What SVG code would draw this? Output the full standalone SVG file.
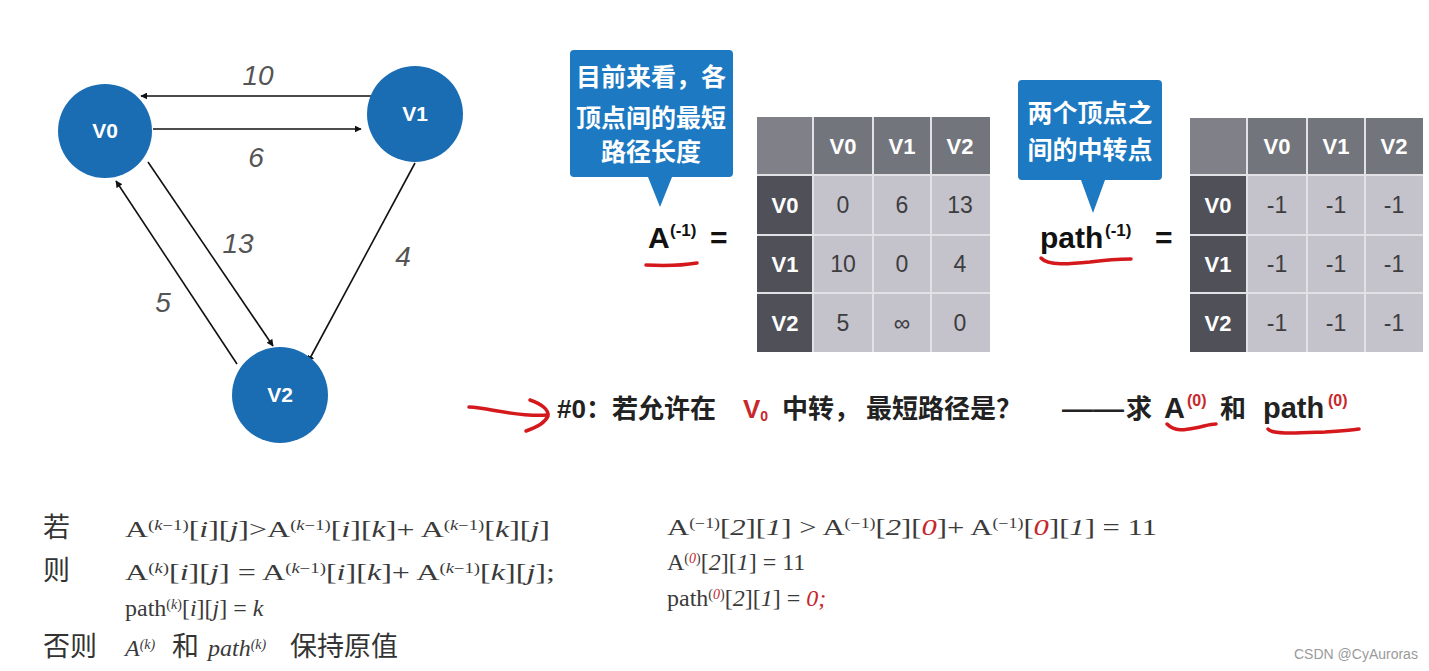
<svg xmlns="http://www.w3.org/2000/svg" width="1429" height="671" viewBox="0 0 1429 671">
<defs>
<marker id="ah" viewBox="0 0 10 10" refX="9" refY="5" markerWidth="7" markerHeight="7" orient="auto" markerUnits="userSpaceOnUse"><path d="M0,0 L10,5 L0,10 z" fill="#111"/></marker>
<style>
.node{fill:#1b6db3}
.nl{font-family:"Liberation Sans",Arial,sans-serif;font-weight:bold;font-size:21px;fill:#fff;text-anchor:middle}
.edge{stroke:#111;stroke-width:1.6;fill:none;marker-end:url(#ah)}
.el{font-family:"Liberation Sans",Arial,sans-serif;font-style:italic;font-size:28px;fill:#555;text-anchor:middle}
.call{fill:#1d79c1}
.ct{font-family:"Noto Sans CJK SC",sans-serif;font-weight:bold;font-size:25px;fill:#fff;text-anchor:middle}
.corner{fill:#808188}
.hd{fill:#73757c}
.rh{fill:#505158}
.cell{fill:#c4c2ca}
.th{font-family:"Liberation Sans",Arial,sans-serif;font-weight:bold;font-size:22px;fill:#fff;text-anchor:middle}
.td{font-family:"Liberation Sans",Arial,sans-serif;font-size:23px;fill:#3d3d40;text-anchor:middle}
.big{font-family:"Liberation Sans",Arial,sans-serif;font-weight:bold;font-size:30px;fill:#111}
.sup{font-family:"Liberation Sans",Arial,sans-serif;font-weight:bold;font-size:17px;fill:#111}
.red{stroke:#d4181c;stroke-width:3.5;fill:none;stroke-linecap:round;stroke-linejoin:round}
.q{font-family:"Liberation Sans","Noto Sans CJK SC",sans-serif;font-size:26px;fill:#222;font-weight:bold}
.qb{font-family:"Liberation Sans",Arial,sans-serif;font-size:29px;fill:#222;font-weight:bold}
.qs{font-family:"Liberation Sans",Arial,sans-serif;font-size:16px;fill:#c8272b;font-weight:bold}
.cj{font-family:"Noto Sans CJK SC",sans-serif;font-size:27px;fill:#333}
.f{font-family:"Liberation Serif","Times New Roman",serif;font-size:24px;fill:#3a3a3a}
.fs{font-size:14px}
.it{font-style:italic}
.r{fill:#c8272b}
</style>
</defs>
<rect width="1429" height="671" fill="#fff"/>

<g id="connectors">
<line class="edge" x1="373" y1="96" x2="141" y2="96"/>
<line class="edge" x1="153" y1="129" x2="361" y2="129"/>
<line class="edge" x1="148" y1="162" x2="273" y2="346"/>
<line class="edge" x1="237" y1="364" x2="116" y2="181"/>
<line class="edge" x1="415" y1="163" x2="308" y2="362"/>
<text class="el" x="258" y="85">10</text>
<text class="el" x="256" y="167">6</text>
<text class="el" x="238" y="253">13</text>
<text class="el" x="403" y="266">4</text>
<text class="el" x="163" y="312">5</text>
</g>

<g id="V0"><circle class="node" cx="105" cy="131" r="47"/><text class="nl" x="105" y="138">V0</text></g>
<g id="V1"><circle class="node" cx="415" cy="114" r="48"/><text class="nl" x="415" y="121">V1</text></g>
<g id="V2"><circle class="node" cx="280" cy="395" r="48"/><text class="nl" x="280" y="402">V2</text></g>

<g id="callout1">
<path class="call" d="M574,50 H729 a4,4 0 0 1 4,4 V173 a4,4 0 0 1 -4,4 H672 L660,207 L648,177 H574 a4,4 0 0 1 -4,-4 V54 a4,4 0 0 1 4,-4 z"/>
<text class="ct" x="651" y="86">目前来看，各</text>
<text class="ct" x="651" y="127">顶点间的最短</text>
<text class="ct" x="651" y="161">路径长度</text>
</g>

<g id="callout2">
<path class="call" d="M1022,80 H1158 a4,4 0 0 1 4,4 V176 a4,4 0 0 1 -4,4 H1105 L1093,213 L1081,180 H1022 a4,4 0 0 1 -4,-4 V84 a4,4 0 0 1 4,-4 z"/>
<text class="ct" x="1090" y="122">两个顶点之</text>
<text class="ct" x="1090" y="159">间的中转点</text>
</g>

<g id="A-label">
<text class="big" x="648" y="248">A</text>
<text class="sup" x="670" y="236">(-1)</text>
<text class="big" x="710" y="248">=</text>
<path class="red" d="M646,265 C665,266 685,265 697,263"/>
</g>

<g id="tableA">
<rect x="757" y="117" width="233" height="235" fill="#e2e2e6"/>
<rect class="corner" x="757" y="117" width="55" height="57"/>
<rect class="hd" x="814" y="117" width="58" height="57"/>
<rect class="hd" x="874" y="117" width="56" height="57"/>
<rect class="hd" x="932" y="117" width="58" height="57"/>
<rect class="rh" x="757" y="176" width="55" height="58"/>
<rect class="rh" x="757" y="236" width="55" height="56"/>
<rect class="rh" x="757" y="294" width="55" height="58"/>
<rect class="cell" x="814" y="176" width="58" height="58"/><rect class="cell" x="874" y="176" width="56" height="58"/><rect class="cell" x="932" y="176" width="58" height="58"/>
<rect class="cell" x="814" y="236" width="58" height="56"/><rect class="cell" x="874" y="236" width="56" height="56"/><rect class="cell" x="932" y="236" width="58" height="56"/>
<rect class="cell" x="814" y="294" width="58" height="58"/><rect class="cell" x="874" y="294" width="56" height="58"/><rect class="cell" x="932" y="294" width="58" height="58"/>
<text class="th" x="843" y="154">V0</text><text class="th" x="902" y="154">V1</text><text class="th" x="960" y="154">V2</text>
<text class="th" x="785" y="213">V0</text><text class="th" x="785" y="272">V1</text><text class="th" x="785" y="331">V2</text>
<text class="td" x="843" y="213">0</text><text class="td" x="902" y="213">6</text><text class="td" x="960" y="213">13</text>
<text class="td" x="843" y="272">10</text><text class="td" x="902" y="272">0</text><text class="td" x="960" y="272">4</text>
<text class="td" x="843" y="331">5</text><text class="td" x="902" y="331">∞</text><text class="td" x="960" y="331">0</text>
</g>

<g id="path-label">
<text class="big" x="1040" y="248">path</text>
<text class="sup" x="1105" y="236">(-1)</text>
<text class="big" x="1155" y="248">=</text>
<path class="red" d="M1041,258 C1048,266 1070,264 1090,262 C1105,260 1120,259 1131,259"/>
</g>

<g id="tablePath">
<rect x="1190" y="118" width="233" height="234" fill="#e2e2e6"/>
<rect class="corner" x="1190" y="118" width="56" height="56"/>
<rect class="hd" x="1248" y="118" width="58" height="56"/>
<rect class="hd" x="1308" y="118" width="56" height="56"/>
<rect class="hd" x="1366" y="118" width="57" height="56"/>
<rect class="rh" x="1190" y="176" width="56" height="58"/>
<rect class="rh" x="1190" y="236" width="56" height="56"/>
<rect class="rh" x="1190" y="294" width="56" height="58"/>
<rect class="cell" x="1248" y="176" width="58" height="58"/><rect class="cell" x="1308" y="176" width="56" height="58"/><rect class="cell" x="1366" y="176" width="57" height="58"/>
<rect class="cell" x="1248" y="236" width="58" height="56"/><rect class="cell" x="1308" y="236" width="56" height="56"/><rect class="cell" x="1366" y="236" width="57" height="56"/>
<rect class="cell" x="1248" y="294" width="58" height="58"/><rect class="cell" x="1308" y="294" width="56" height="58"/><rect class="cell" x="1366" y="294" width="57" height="58"/>
<text class="th" x="1277" y="154">V0</text><text class="th" x="1336" y="154">V1</text><text class="th" x="1394" y="154">V2</text>
<text class="th" x="1218" y="213">V0</text><text class="th" x="1218" y="272">V1</text><text class="th" x="1218" y="331">V2</text>
<text class="td" x="1277" y="213">-1</text><text class="td" x="1336" y="213">-1</text><text class="td" x="1394" y="213">-1</text>
<text class="td" x="1277" y="272">-1</text><text class="td" x="1336" y="272">-1</text><text class="td" x="1394" y="272">-1</text>
<text class="td" x="1277" y="331">-1</text><text class="td" x="1336" y="331">-1</text><text class="td" x="1394" y="331">-1</text>
</g>

<g id="step0">
<path class="red" d="M469,407 C490,408 515,417 547,415"/>
<path class="red" d="M530,400 C542,404 549,410 548,416 C545,423 535,428 526,431"/>
<text class="q" x="557" y="418">#0：若允许在</text>
<text class="q r" x="743" y="418">V<tspan style="font-size:14px" dy="3">0</tspan></text>
<text class="q" x="782" y="418">中转，</text>
<text class="q" x="866" y="418">最短路径是？</text>
<text class="q" x="1062" y="418" textLength="62" lengthAdjust="spacingAndGlyphs">——</text>
<text class="q" x="1126" y="418">求</text>
<text class="qb" x="1164" y="418">A</text>
<text class="qs" x="1187" y="406">(0)</text>
<text class="q" x="1220" y="418">和</text>
<text class="qb" x="1263" y="418">path</text>
<text class="qs" x="1328" y="406">(0)</text>
<path class="red" d="M1167,424 C1175,432 1185,430 1195,428 C1205,426 1210,424 1216,424"/>
<path class="red" d="M1268,429 C1272,435 1300,433 1325,432 C1340,431 1352,430 1359,429"/>
</g>

<g id="rule">
<text class="cj" x="43" y="537">若</text>
<text class="cj" x="43" y="580">则</text>
<text class="cj" x="43" y="656">否则</text>
<text class="f" x="125" y="537" textLength="425" lengthAdjust="spacingAndGlyphs">A<tspan class="fs" dy="-7">(<tspan class="it">k</tspan>−1)</tspan><tspan dy="7">[<tspan class="it">i</tspan>][<tspan class="it">j</tspan>]&gt;A</tspan><tspan class="fs" dy="-7">(<tspan class="it">k</tspan>−1)</tspan><tspan dy="7">[<tspan class="it">i</tspan>][<tspan class="it">k</tspan>]+ A</tspan><tspan class="fs" dy="-7">(<tspan class="it">k</tspan>−1)</tspan><tspan dy="7">[<tspan class="it">k</tspan>][<tspan class="it">j</tspan>]</tspan></text>
<text class="f" x="125" y="580" textLength="430" lengthAdjust="spacingAndGlyphs">A<tspan class="fs" dy="-7">(<tspan class="it">k</tspan>)</tspan><tspan dy="7">[<tspan class="it">i</tspan>][<tspan class="it">j</tspan>] = A</tspan><tspan class="fs" dy="-7">(<tspan class="it">k</tspan>−1)</tspan><tspan dy="7">[<tspan class="it">i</tspan>][<tspan class="it">k</tspan>]+ A</tspan><tspan class="fs" dy="-7">(<tspan class="it">k</tspan>−1)</tspan><tspan dy="7">[<tspan class="it">k</tspan>][<tspan class="it">j</tspan>];</tspan></text>
<text class="f" x="125" y="616">path<tspan class="fs" dy="-7">(<tspan class="it">k</tspan>)</tspan><tspan dy="7">[<tspan class="it">i</tspan>][<tspan class="it">j</tspan>] = <tspan class="it">k</tspan></tspan></text>
<text class="f it" x="125" y="656">A<tspan class="fs" dy="-7">(k)</tspan></text>
<text class="cj" x="172" y="656">和</text>
<text class="f it" x="208" y="656">path<tspan class="fs" dy="-7">(k)</tspan></text>
<text class="cj" x="290" y="656">保持原值</text>
</g>

<g id="example">
<text class="f" x="667" y="535" textLength="490" lengthAdjust="spacingAndGlyphs">A<tspan class="fs" dy="-7">(−1)</tspan><tspan dy="7">[<tspan class="it">2</tspan>][<tspan class="it">1</tspan>] &gt; A</tspan><tspan class="fs" dy="-7">(−1)</tspan><tspan dy="7">[<tspan class="it">2</tspan>][<tspan class="it r">0</tspan>]+ A</tspan><tspan class="fs" dy="-7">(−1)</tspan><tspan dy="7">[<tspan class="it r">0</tspan>][<tspan class="it">1</tspan>] = 11</tspan></text>
<text class="f" x="667" y="570">A<tspan class="fs" dy="-7">(<tspan class="it r">0</tspan>)</tspan><tspan dy="7">[<tspan class="it">2</tspan>][<tspan class="it">1</tspan>] = 11</tspan></text>
<text class="f" x="667" y="606">path<tspan class="fs" dy="-7">(<tspan class="it r">0</tspan>)</tspan><tspan dy="7">[<tspan class="it">2</tspan>][<tspan class="it">1</tspan>] = <tspan class="it r">0;</tspan></tspan></text>
</g>

<text x="1294" y="659" font-family="Liberation Sans,Arial,sans-serif" font-size="14" fill="#9a9a9a">CSDN @CyAuroras</text>
</svg>
